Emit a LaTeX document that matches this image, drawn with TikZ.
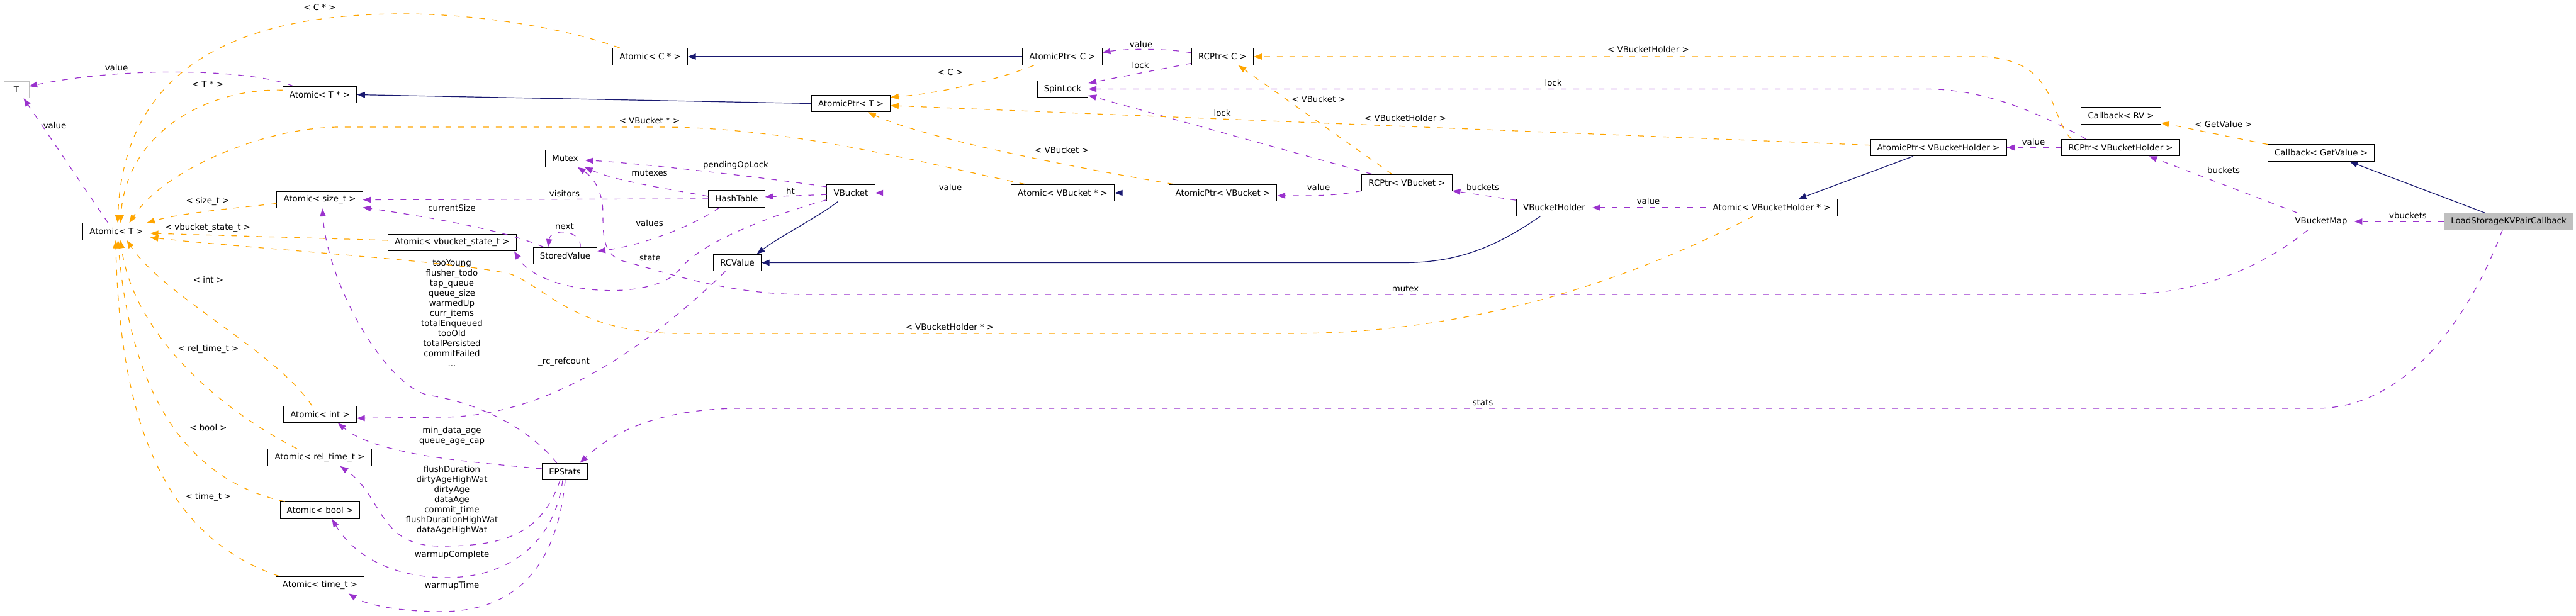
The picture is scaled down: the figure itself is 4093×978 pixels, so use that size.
\documentclass[tikz,border=0pt]{standalone}
\usepackage{fontspec}
\setmainfont{DejaVu Sans}
\usetikzlibrary{arrows.meta}

\definecolor{usecol}{HTML}{9A32CD}
\definecolor{instcol}{HTML}{FFA500}
\definecolor{basecol}{HTML}{191970}
\definecolor{focusfill}{HTML}{BFBFBF}

\begin{document}
\begin{tikzpicture}
[x=0.75pt,y=-0.75pt,>={Triangle[length=9.5pt,width=7pt]},line width=0.9pt,
  class node/.style={draw,line width=0.75pt,rectangle,minimum height=20pt,inner xsep=8pt,inner ysep=2pt,fill=white,font=\fontsize{10}{12}\selectfont},
  focus node/.style={class node,fill=focusfill},
  param node/.style={class node,draw=focusfill,minimum width=30pt},
  use line/.style={->,usecol,dash pattern=on 6.75pt off 8.25pt},
  inst line/.style={->,instcol,dash pattern=on 6.75pt off 8.25pt},
  base line/.style={->,basecol},
  edge label/.style={font=\fontsize{10}{12}\selectfont,align=center,inner sep=0pt}]

  \useasboundingbox (0,0) rectangle (4093,978);

  \node [param node] (T)		at (26,142.5)	{T};
  \node [class node] (AtomicTptr)	at (508,150.5)	{Atomic< T * >};
  \node [class node] (AtomicT)		at (185,368)	{Atomic< T >};
  \node [class node] (AtomicSize)	at (508,317.5)	{Atomic< size\_t >};
  \node [class node] (AtomicState)	at (718.5,385.5)	{Atomic< vbucket\_state\_t >};
  \node [class node] (AtomicCptr)	at (1033,90)	{Atomic< C * >};
  \node [class node] (AtomicPtrT)	at (1352,164.5)	{AtomicPtr< T >};
  \node [class node] (Mutex)		at (898,252)	{Mutex};
  \node [class node] (HashTable)	at (1170.5,316)	{HashTable};
  \node [class node] (VBucket)		at (1352,306.5)	{VBucket};
  \node [class node] (StoredValue)	at (898,406.5)	{StoredValue};
  \node [class node] (RCValue)		at (1171.5,417.5)	{RCValue};
  \node [class node] (AtomicInt)	at (508.5,658.5)	{Atomic< int >};
  \node [class node] (AtomicRel)	at (508,727)	{Atomic< rel\_time\_t >};
  \node [class node] (AtomicBool)	at (508.5,811)	{Atomic< bool >};
  \node [class node] (AtomicTime)	at (508.5,929.5)	{Atomic< time\_t >};
  \node [class node] (EPStats)		at (897.5,749.5)	{EPStats};
  \node [class node] (AtomicPtrC)	at (1688,90)	{AtomicPtr< C >};
  \node [class node] (RCPtrC)		at (1942.5,90)	{RCPtr< C >};
  \node [class node] (SpinLock)		at (1688.5,141.5)	{SpinLock};
  \node [class node] (AtomicVB)		at (1688.5,306.5)	{Atomic< VBucket * >};
  \node [class node] (AtomicPtrVB)	at (1943,306.5)	{AtomicPtr< VBucket >};
  \node [class node] (RCPtrVB)		at (2235.5,290.5)	{RCPtr< VBucket >};
  \node [class node] (VBHolder)		at (2469.5,330)	{VBucketHolder};
  \node [class node] (AtomicVBH)	at (2815,330)	{Atomic< VBucketHolder * >};
  \node [class node] (AtomicPtrVBH)	at (3080,234.5)	{AtomicPtr< VBucketHolder >};
  \node [class node] (RCPtrVBH)		at (3369.5,234.5)	{RCPtr< VBucketHolder >};
  \node [class node] (CallbackRV)	at (3370,184)	{Callback< RV >};
  \node [class node] (CallbackGV)	at (3688,243)	{Callback< GetValue >};
  \node [class node] (VBMap)		at (3688,352)	{VBucketMap};
  \node [focus node] (Main)		at (3986,352)	{LoadStorageKVPairCallback};

  % edge labels
  \node [edge label] (lValTptr)		at (185,108)	{value};
  \node [edge label] (lValT)		at (87,200)	{value};
  \node [edge label] (lCptr)		at (508,12)	{< C * >};
  \node [edge label] (lTptr)		at (330,134)	{< T * >};
  \node [edge label] (lVBptr)		at (1032,192)	{< VBucket * >};
  \node [edge label] (lSize)		at (330,320)	{< size\_t >};
  \node [edge label] (lState)		at (330,362)	{< vbucket\_state\_t >};
  \node [edge label] (lVBHptr)		at (1509,520)	{< VBucketHolder * >};
  \node [edge label] (lInt)		at (331,444)	{< int >};
  \node [edge label] (lRel)		at (331,555)	{< rel\_time\_t >};
  \node [edge label] (lBool)		at (331,680)	{< bool >};
  \node [edge label] (lTime)		at (331,790)	{< time\_t >};
  \node [edge label] (lC)		at (1510,115)	{< C >};
  \node [edge label] (lVBHtmpl)		at (2233,188)	{< VBucketHolder >};
  \node [edge label] (lVBtmpl)		at (1687,239)	{< VBucket >};
  \node [edge label] (lValVB)		at (1510,298)	{value};
  \node [edge label] (lValPtrVB)	at (2095,298)	{value};
  \node [edge label] (lValPtrC)		at (1813,71)	{value};
  \node [edge label] (lLockC)		at (1812,104)	{lock};
  \node [edge label] (lLockVBH)		at (2468,132)	{lock};
  \node [edge label] (lLockVB)		at (1942,180)	{lock};
  \node [edge label] (lRCVB)		at (2095,158)	{< VBucket >};
  \node [edge label] (lRCVBH)		at (2619,79)	{< VBucketHolder >};
  \node [edge label] (lValPtrVBH)	at (3231,226)	{value};
  \node [edge label] (lValVBH)		at (2619,320)	{value};
  \node [edge label] (lBuckets)		at (2356,298)	{buckets};
  \node [edge label] (lHt)		at (1256,303)	{ht};
  \node [edge label] (lPending)		at (1169,263)	{pendingOpLock};
  \node [edge label] (lMutexes)		at (1032,275)	{mutexes};
  \node [edge label] (lValues)		at (1032,355)	{values};
  \node [edge label] (lNext)		at (897,360)	{next};
  \node [edge label] (lVisitors)	at (897,308)	{visitors};
  \node [edge label] (lCurSize)		at (718,331)	{currentSize};
  \node [edge label] (lStatsSize)	at (718,498)	{tooYoung\\flusher\_todo\\tap\_queue\\queue\_size\\warmedUp\\curr\_items\\totalEnqueued\\tooOld\\totalPersisted\\commitFailed\\...};
  \node [edge label] (lRefcount)	at (896,575)	{\_rc\_refcount};
  \node [edge label] (lStatsInt)	at (718,692.5)	{min\_data\_age\\queue\_age\_cap};
  \node [edge label] (lStatsRel)	at (718,795)	{flushDuration\\dirtyAgeHighWat\\dirtyAge\\dataAge\\commit\_time\\flushDurationHighWat\\dataAgeHighWat};
  \node [edge label] (lWarmC)		at (718,882)	{warmupComplete};
  \node [edge label] (lWarmT)		at (718,931)	{warmupTime};
  \node [edge label] (lStats)		at (2356,640)	{stats};
  \node [edge label] (lVbuckets)	at (3826,343)	{vbuckets};
  \node [edge label] (lGetValue)	at (3533,198)	{< GetValue >};
  \node [edge label] (lBucketsMap)	at (3533,271)	{buckets};
  \node [edge label] (lMutex)		at (2233,459)	{mutex};
  \node [edge label] (lStateUse)	at (1033,410)	{state};

  \foreach \from/\to in {AtomicPtrT.west/AtomicTptr.east,AtomicPtrC.west/AtomicCptr.east,AtomicPtrVB.west/AtomicVB.east,AtomicPtrVBH.199/AtomicVBH.18,Main.160/CallbackGV.-17}
    \draw [base line] (\from) -- (\to);
  \draw [base line] (VBucket.214) .. controls (1300,345) and (1240,375) .. (RCValue.24);
  \draw [base line] (VBHolder.212) .. controls (2380,390) and (2320,417.5) .. (2230,417.5) -- (RCValue.east);

  \foreach \from/\to in {AtomicVB.west/VBucket.east,RCPtrVBH.west/AtomicPtrVBH.east,AtomicVBH.west/VBHolder.east,Main.west/VBMap.east,HashTable.west/AtomicSize.east,VBucket.184/HashTable.4,RCPtrC.192/SpinLock.13,RCPtrVB.166/SpinLock.-14,VBMap.160/RCPtrVBH.-17,VBHolder.169/RCPtrVB.-10,AtomicT.134/T.-50}
    \draw [use line] (\from) -- (\to);
  \draw [use line] (AtomicTptr.162) .. controls (400,110) and (200,105) .. (T.15);
  \draw [use line] (RCPtrVB.190) .. controls (2120,312) and (2080,311) .. (AtomicPtrVB.-3);
  \draw [use line] (RCPtrC.173) .. controls (1860,78) and (1800,76) .. (AtomicPtrC.6);
  \draw [use line] (RCPtrVBH.166) .. controls (3250,185) and (3160,141.5) .. (3060,141.5) -- (SpinLock.east);
  \draw [use line] (VBucket.166) .. controls (1200,280) and (1000,258) .. (Mutex.-5);
  \draw [use line] (HashTable.175) .. controls (1060,300) and (980,288) .. (Mutex.-24);
  \draw [use line] (HashTable.207) .. controls (1100,360) and (1020,390) .. (StoredValue.8);
  \draw [use line] (StoredValue.30) .. controls (925,365) and (875,362) .. (StoredValue.153);
  \draw [use line] (StoredValue.158) .. controls (800,365) and (680,345) .. (AtomicSize.-10);
  \draw [use line] (EPStats.133) .. controls (840,680) and (760,640) .. (680,628) .. controls (610,610) and (520,450) .. (AtomicSize.-73);
  \draw [use line] (RCValue.216) .. controls (1040,540) and (880,663) .. (700,663) -- (AtomicInt.-6);
  \draw [use line] (EPStats.173) .. controls (760,735) and (600,725) .. (AtomicInt.-26);
  \draw [use line] (EPStats.241) .. controls (860,850) and (800,868) .. (700,868) .. controls (600,868) and (610,790) .. (AtomicRel.-23);
  \draw [use line] (EPStats.256) .. controls (880,870) and (800,918) .. (710,918) .. controls (620,918) and (560,880) .. (AtomicBool.-36);
  \draw [use line] (EPStats.272) .. controls (885,900) and (820,972) .. (700,972) .. controls (630,972) and (580,960) .. (AtomicTime.-17);
  \draw [use line] (Main.234) .. controls (3945,450) and (3850,649) .. (3680,649) -- (1180,649) .. controls (1060,649) and (980,680) .. (EPStats.30);
  \draw [use line] (VBMap.213) .. controls (3600,420) and (3500,468) .. (3370,468) -- (1280,468) .. controls (1150,468) and (1050,430) .. (990,415) .. controls (960,405) and (958,380) .. (958,340) .. controls (958,300) and (940,280) .. (Mutex.-35);
  \draw [use line] (VBucket.196) .. controls (1200,350) and (1110,390) .. (1080,428) .. controls (1040,480) and (860,470) .. (AtomicState.-8);

  \foreach \from/\to in {AtomicPtrVBH.178/AtomicPtrT.-3,RCPtrVB.150/RCPtrC.-29,CallbackGV.171/CallbackRV.-10,AtomicState.178/AtomicT.-3}
    \draw [inst line] (\from) -- (\to);
  \draw [inst line] (AtomicCptr.164) .. controls (900,45) and (760,22) .. (640,22) .. controls (330,22) and (195,140) .. (AtomicT.82);
  \draw [inst line] (AtomicTptr.173) .. controls (330,140) and (200,210) .. (AtomicT.65);
  \draw [inst line] (AtomicVB.167) .. controls (1450,255) and (1250,202) .. (1050,202) -- (540,202) .. controls (420,202) and (260,270) .. (AtomicT.34);
  \draw [inst line] (AtomicSize.185) .. controls (380,330) and (290,338) .. (AtomicT.16);
  \draw [inst line] (AtomicVBH.205) .. controls (2600,440) and (2350,530) .. (2050,530) -- (1080,530) .. controls (920,530) and (870,460) .. (815,437) .. controls (760,418) and (400,395) .. (AtomicT.-10);
  \draw [inst line] (AtomicInt.133) .. controls (440,560) and (260,470) .. (AtomicT.-40);
  \draw [inst line] (AtomicRel.159) .. controls (330,640) and (210,520) .. (AtomicT.-65);
  \draw [inst line] (AtomicBool.166) .. controls (280,760) and (205,600) .. (AtomicT.-80);
  \draw [inst line] (AtomicTime.168) .. controls (250,850) and (190,650) .. (AtomicT.-95);
  \draw [inst line] (AtomicPtrC.197) .. controls (1590,125) and (1500,148) .. (AtomicPtrT.9);
  \draw [inst line] (AtomicPtrVB.170) .. controls (1700,265) and (1470,220) .. (AtomicPtrT.-27);
  \draw [inst line] (RCPtrVBH.170) .. controls (3255,185) and (3270,95) .. (3150,90) -- (RCPtrC.east);

\end{tikzpicture}
\end{document}
